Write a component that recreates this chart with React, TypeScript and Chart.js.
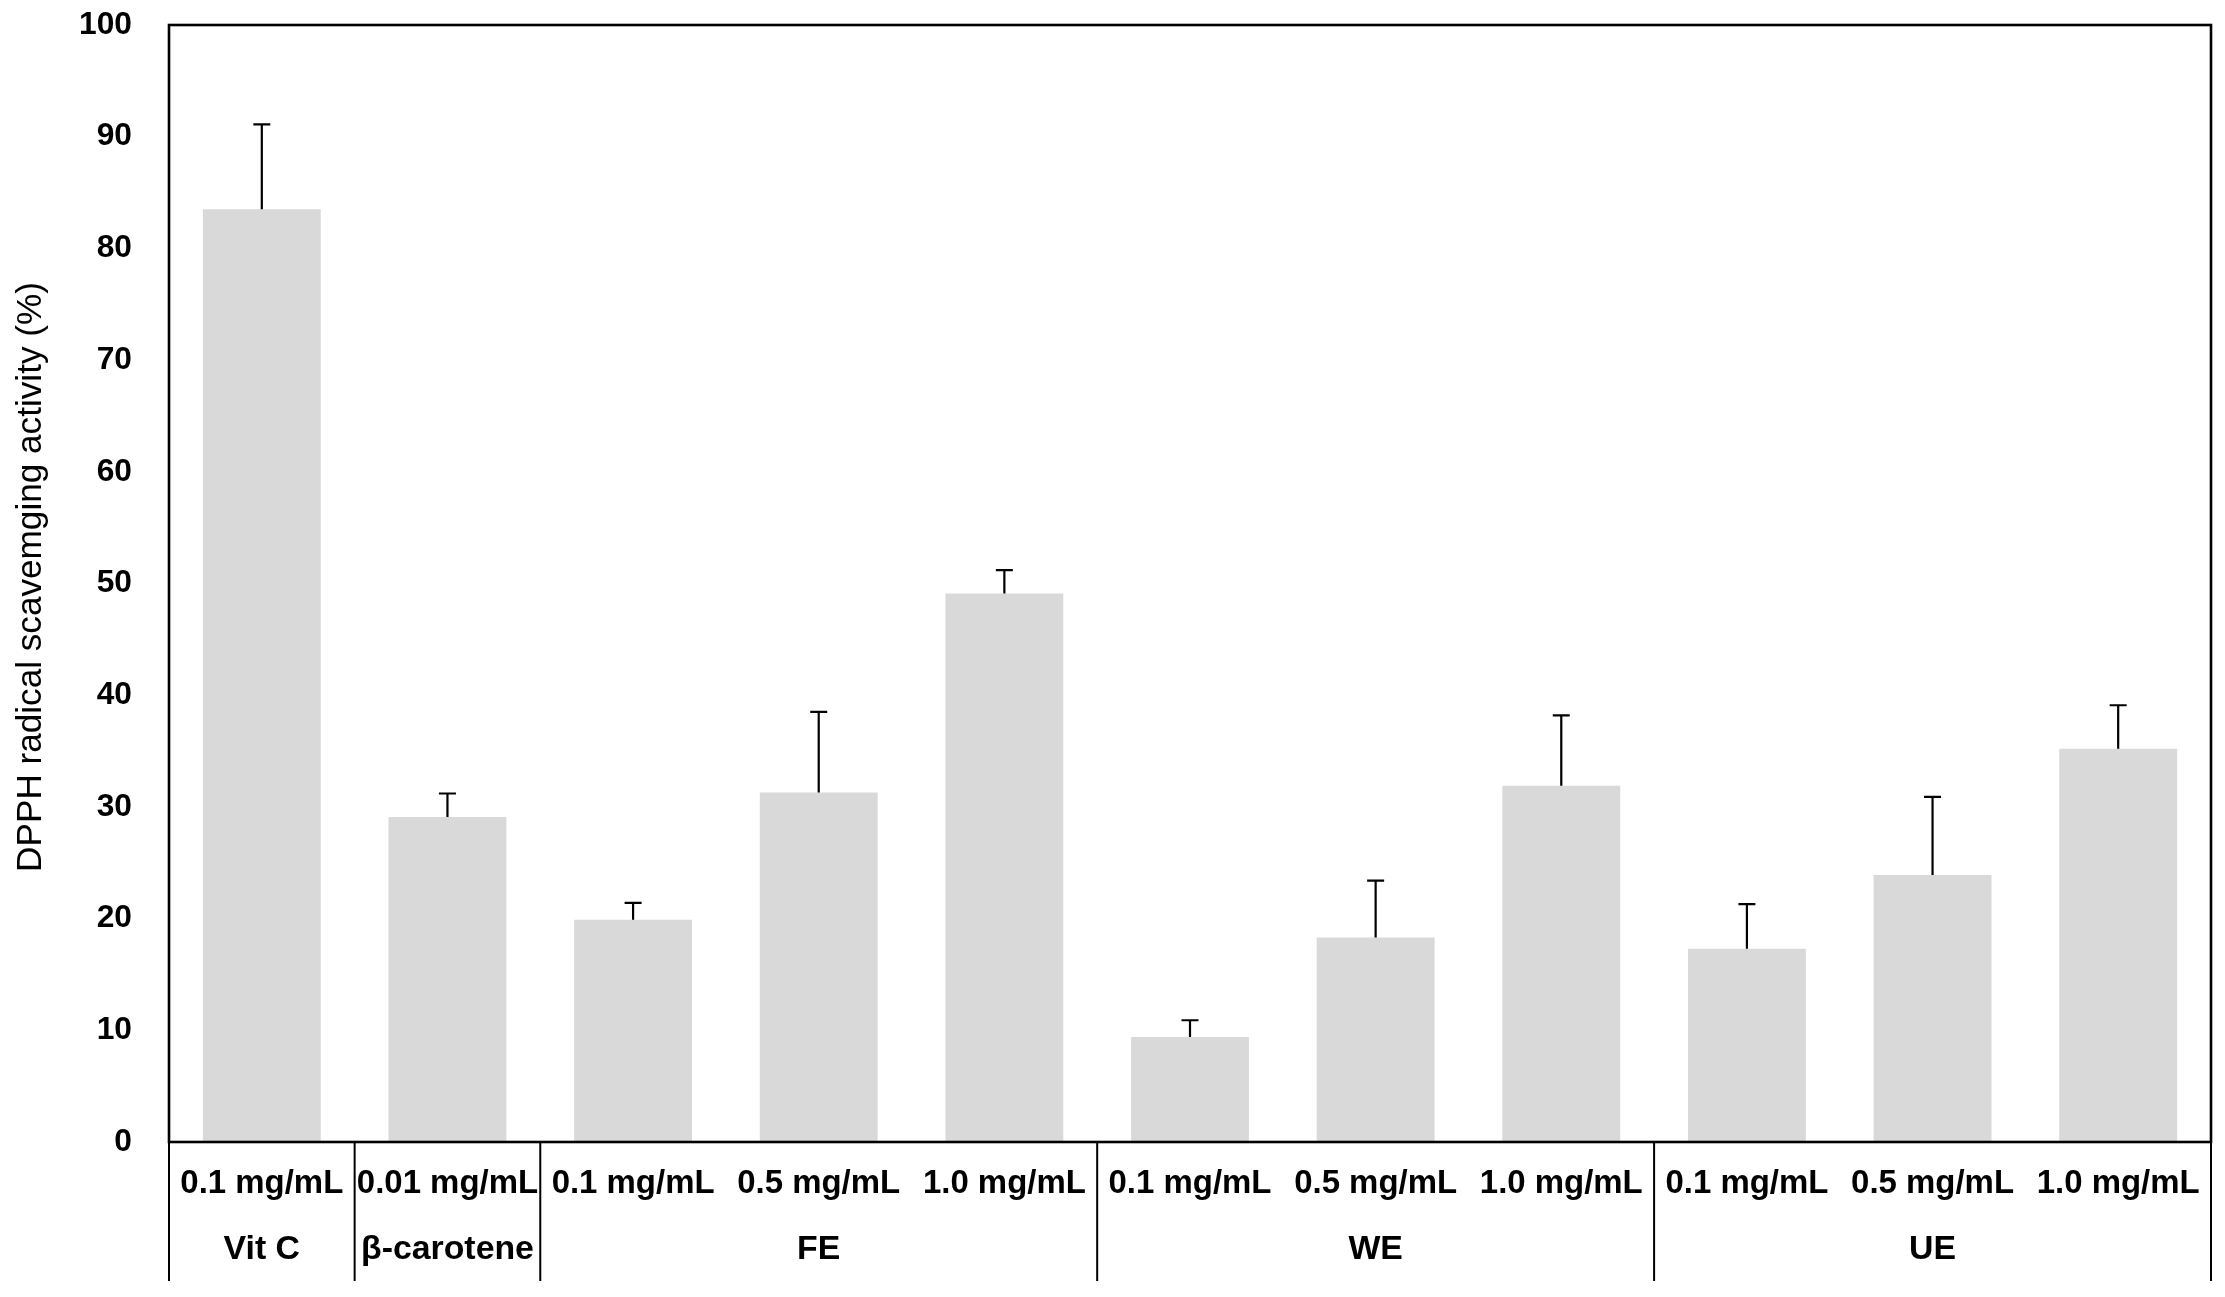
import React, { useEffect, useRef } from "react";
import { Chart, registerables } from "chart.js";

Chart.register(...registerables);

const doseLabels = [
  "0.1 mg/mL",
  "0.01 mg/mL",
  "0.1 mg/mL",
  "0.5 mg/mL",
  "1.0 mg/mL",
  "0.1 mg/mL",
  "0.5 mg/mL",
  "1.0 mg/mL",
  "0.1 mg/mL",
  "0.5 mg/mL",
  "1.0 mg/mL",
];
const activityValues = [83.5, 29.1, 19.9, 31.3, 49.1, 9.4, 18.3, 31.9, 17.3, 23.9, 35.2];
const activityErrors = [7.6, 2.1, 1.5, 7.2, 2.1, 1.5, 5.1, 6.3, 4.0, 7.0, 3.9];
const groupNames = ["Vit C", "β-carotene", "FE", "WE", "UE"];
const groupSizes = [1, 1, 3, 3, 3];
const yTitle = "DPPH radical scavemging activity (%)";

const FAMILY = "'Liberation Sans', Arial, sans-serif";

function fitSize(weight: string, text: string, target: number) {
  const c = document.createElement("canvas");
  const ctx = c.getContext("2d")!;
  ctx.font = `${weight} 100px ${FAMILY}`;
  const w = ctx.measureText(text).width;
  return (100 * target) / w;
}

export default function App() {
  const canvasRef = useRef<HTMLCanvasElement | null>(null);

  useEffect(() => {
    if (!canvasRef.current) return;
    const xSize = fitSize("bold", "0.1 mg/mL", 163);
    const ySize = fitSize("bold", "100", 53);
    const gSize = fitSize("bold", "β-carotene", 173);
    const tSize = fitSize("normal", yTitle, 590);

    const errorBarPlugin = {
      id: "errorBars",
      afterDatasetsDraw(chart: any) {
        const { ctx } = chart;
        const yScale = chart.scales.y;
        const meta = chart.getDatasetMeta(0);
        ctx.save();
        ctx.strokeStyle = "#000";
        ctx.lineWidth = 2.2;
        meta.data.forEach((el: any, i: number) => {
          const top = yScale.getPixelForValue(activityValues[i] + activityErrors[i]);
          const base = el.y;
          ctx.beginPath();
          ctx.moveTo(el.x, base);
          ctx.lineTo(el.x, top);
          ctx.moveTo(el.x - 8.5, top);
          ctx.lineTo(el.x + 8.5, top);
          ctx.stroke();
        });
        ctx.restore();
      },
    };

    const tablePlugin = {
      id: "tableFrame",
      afterDraw(chart: any) {
        const { ctx, chartArea } = chart;
        const xScale = chart.scales.x;
        const { left, right, top, bottom } = chartArea;
        const tableBottom = 1281;
        ctx.save();
        ctx.strokeStyle = "#000";
        ctx.lineWidth = 2.6;
        ctx.strokeRect(left, top, right - left, bottom - top);
        ctx.lineWidth = 2;
        ctx.beginPath();
        ctx.moveTo(left, bottom);
        ctx.lineTo(left, tableBottom);
        ctx.moveTo(right, bottom);
        ctx.lineTo(right, tableBottom);
        let idx = 0;
        groupSizes.forEach((n, g) => {
          if (g > 0) {
            const b = (xScale.getPixelForValue(idx - 1) + xScale.getPixelForValue(idx)) / 2;
            ctx.moveTo(b, bottom);
            ctx.lineTo(b, tableBottom);
          }
          idx += n;
        });
        ctx.stroke();
        ctx.fillStyle = "#000";
        ctx.font = `bold ${gSize}px ${FAMILY}`;
        ctx.textAlign = "center";
        ctx.textBaseline = "middle";
        idx = 0;
        groupSizes.forEach((n, g) => {
          const x0 = xScale.getPixelForValue(idx);
          const x1 = xScale.getPixelForValue(idx + n - 1);
          ctx.fillText(groupNames[g], (x0 + x1) / 2, 1250);
          idx += n;
        });
        // y axis title
        ctx.font = `${tSize}px ${FAMILY}`;
        ctx.translate(31, 577);
        ctx.rotate(-Math.PI / 2);
        ctx.fillText(yTitle, 0, 0);
        ctx.restore();
      },
    };

    const chart = new Chart(canvasRef.current, {
      type: "bar",
      data: {
        labels: doseLabels,
        datasets: [
          {
            data: activityValues,
            backgroundColor: "#d9d9d9",
            borderWidth: 0,
            categoryPercentage: 1,
            barPercentage: 0.635,
          },
        ],
      },
      options: {
        animation: false,
        responsive: true,
        maintainAspectRatio: false,
        layout: { padding: { top: 25, right: 14, bottom: 0, left: 0 } },
        plugins: {
          legend: { display: false },
          tooltip: { enabled: false },
        },
        scales: {
          x: {
            grid: { display: false, drawTicks: false },
            border: { display: false },
            ticks: {
              color: "#000",
              font: { family: FAMILY, size: xSize, weight: "bold" },
              padding: 42 - 0.6 * xSize,
              maxRotation: 0,
              autoSkip: false,
            },
            afterFit: (s: any) => {
              s.height = 155;
              s.paddingLeft = 0;
              s.paddingRight = 0;
            },
          },
          y: {
            min: 0,
            max: 100,
            grid: { display: false, drawTicks: false },
            border: { display: false },
            ticks: {
              stepSize: 10,
              color: "#000",
              font: { family: FAMILY, size: ySize, weight: "bold" },
              padding: 37,
            },
            afterFit: (s: any) => {
              s.width = 169;
              s.paddingTop = 0;
              s.paddingBottom = 0;
            },
          },
        },
      },
      plugins: [errorBarPlugin, tablePlugin],
    });
    return () => chart.destroy();
  }, []);

  return (
    <div style={{ position: "fixed", left: 0, top: 0, width: 2225, height: 1297, background: "#fff" }}>
      <canvas ref={canvasRef} />
    </div>
  );
}
